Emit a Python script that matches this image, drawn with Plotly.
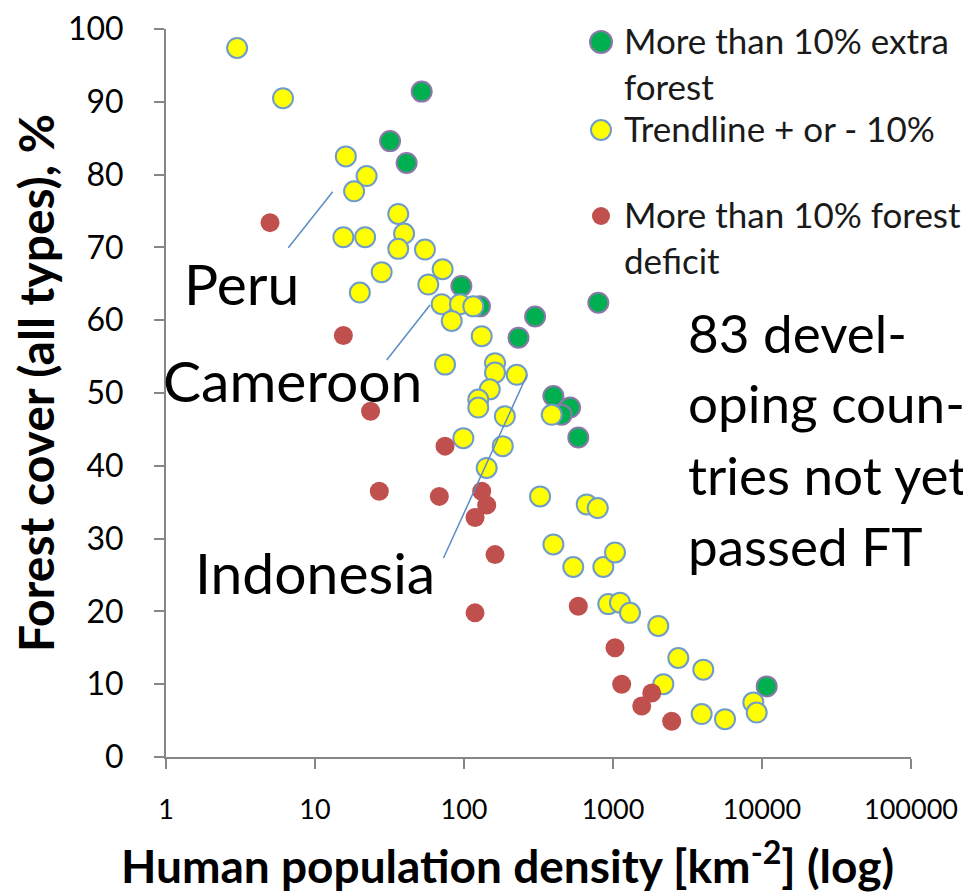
import plotly.graph_objects as go

# ---- data ----
green_x = [52, 31.9, 41.2, 96, 128, 300, 232, 797, 398, 515, 452, 585, 10750]
green_y = [91.4, 84.6, 81.6, 64.7, 61.9, 60.5, 57.6, 62.4, 49.6, 48.0, 47.0, 43.9, 9.7]

yellow_x = [3.0, 6.1, 16.1, 22.2, 18.3, 36.2, 15.5, 21.7, 39.6, 36.2, 54.7, 28.0, 71.9, 57.6,
            20.0, 70.8, 94, 115.5, 82.7, 131.5, 74.6, 161.5, 161.5, 226, 149, 124.7, 124.7,
            188, 99, 182, 142, 388, 324, 666, 790, 398, 541, 861, 1031, 930, 1114, 1300,
            2014, 2743, 4036, 2177, 3936, 5646, 8747, 9212]
yellow_y = [97.4, 90.5, 82.5, 79.8, 77.7, 74.6, 71.4, 71.4, 71.9, 69.8, 69.7, 66.6, 67.0, 64.9,
            63.8, 62.2, 62.2, 61.9, 59.9, 57.8, 53.9, 54.1, 52.8, 52.5, 50.5, 49.1, 48.0,
            46.8, 43.8, 42.7, 39.7, 47.0, 35.8, 34.7, 34.2, 29.2, 26.1, 26.1, 28.1, 21.0, 21.2, 19.8,
            18.0, 13.6, 12.0, 10.0, 5.9, 5.2, 7.5, 6.1]

red_x = [4.99, 15.5, 23.6, 74.6, 27.0, 68.3, 131.5, 142, 118.6, 161.5, 118.6, 585, 1031,
         1143, 1820, 1559, 2477]
red_y = [73.4, 57.9, 47.5, 42.7, 36.5, 35.8, 36.5, 34.6, 32.9, 27.8, 19.8, 20.7, 15.0,
         10.0, 8.8, 7.0, 4.9]

x_tickvals = [1, 10, 100, 1000, 10000, 100000]
x_ticktext = ["1", "10", "100", "1000", "10000", "100000"]
y_tickvals = [0, 10, 20, 30, 40, 50, 60, 70, 80, 90, 100]

legend_labels = [["More than 10% extra", "forest"], ["Trendline + or - 10%"],
                 ["More than 10% forest", "deficit"]]
country_labels = ["Peru", "Cameroon", "Indonesia"]
note_lines = ["83 devel-", "oping coun-", "tries not yet", "passed FT"]

# ---- styles ----
GREEN = "#00B050"
GREEN_LINE = "#8A78A8"
YELLOW = "#FFFF00"
YELLOW_LINE = "#6F9CC8"
RED = "#C0504D"
AXIS = "#868686"
FONT = "Lato"

fig = go.Figure()
fig.add_trace(go.Scatter(x=green_x, y=green_y, mode="markers", showlegend=False,
                         marker=dict(size=20, color=GREEN, line=dict(color=GREEN_LINE, width=2))))
fig.add_trace(go.Scatter(x=yellow_x, y=yellow_y, mode="markers", showlegend=False,
                         marker=dict(size=20, color=YELLOW, line=dict(color=YELLOW_LINE, width=2))))
fig.add_trace(go.Scatter(x=red_x, y=red_y, mode="markers", showlegend=False,
                         marker=dict(size=19, color=RED, line=dict(width=0))))

# page offset (body margin) compensation
OFF = 8
W, H = 971, 894
# desired plot area in page pixels
PL, PR, PT, PB = 166, 911, 29, 757
L, T = PL - OFF, PT - OFF
R = W + OFF - PR
B = H + OFF - PB
PW, PH = PR - PL, PB - PT


def px(xp):
    return (xp - PL) / PW


def py(yp):
    return (PB - yp) / PH


shapes = []
annotations = []

# legend swatches and texts
leg_rows = [42, 130, 216]
leg_styles = [(GREEN, GREEN_LINE, 11, 2), (YELLOW, YELLOW_LINE, 10, 2), (RED, RED, 9, 0)]
for row, (fc, lc, r, lw), lines in zip(leg_rows, leg_styles, legend_labels):
    shapes.append(dict(type="circle", xref="paper", yref="paper", xsizemode="pixel",
                       ysizemode="pixel", xanchor=px(601), yanchor=py(row),
                       x0=-r, x1=r, y0=-r, y1=r, fillcolor=fc,
                       line=dict(color=lc, width=lw)))
    for i, t in enumerate(lines):
        annotations.append(dict(text=t, xref="paper", yref="paper", x=px(622),
                                y=py(row - 2 + 46 * i),
                                xanchor="left", yanchor="middle", showarrow=False,
                                font=dict(family=FONT, size=35, color="#1a1a1a")))

# leader lines
for (x0, y0, x1, y1) in [(332.7, 191.7, 288.3, 247.7), (430, 305, 386.7, 360),
                         (527, 375, 443.5, 558)]:
    shapes.append(dict(type="line", xref="paper", yref="paper", x0=px(x0), y0=py(y0),
                       x1=px(x1), y1=py(y1), line=dict(color="#5B8CC6", width=1.5)))

for t, (cx, cy) in zip(country_labels, [(241, 283), (292, 380), (315, 572)]):
    annotations.append(dict(text=t, xref="paper", yref="paper", x=px(cx), y=py(cy),
                            xanchor="center", yanchor="middle", showarrow=False,
                            font=dict(family=FONT, size=57, color="black")))

for t, cy in zip(note_lines, [333, 403, 474, 546]):
    annotations.append(dict(text=t, xref="paper", yref="paper", x=px(686), y=py(cy),
                            xanchor="left", yanchor="middle", showarrow=False,
                            font=dict(family=FONT, size=53, color="black")))

# axis titles
annotations.append(dict(text="<b>Human population density [km<sup>-2</sup>] (log)</b>",
                        xref="paper", yref="paper", x=px(507), y=py(862),
                        xanchor="center", yanchor="middle", showarrow=False,
                        font=dict(family=FONT, size=46, color="black")))
annotations.append(dict(text="<b>Forest cover (all types), %</b>", textangle=-90,
                        xref="paper", yref="paper", x=px(35), y=py(383),
                        xanchor="center", yanchor="middle", showarrow=False,
                        font=dict(family=FONT, size=48, color="black")))

fig.update_layout(
    width=W, height=H, margin=dict(l=L, r=R, t=T, b=B, autoexpand=False),
    paper_bgcolor="white", plot_bgcolor="white",
    shapes=shapes, annotations=annotations, showlegend=False,
    font=dict(family=FONT, color="black"),
)
fig.update_xaxes(type="log", range=[0, 5], tickvals=x_tickvals, ticktext=x_ticktext,
                 automargin=False,
                 showgrid=False, zeroline=False, showline=True, linecolor=AXIS, linewidth=2,
                 ticks="outside", ticklen=10, tickwidth=2, tickcolor=AXIS,
                 tickfont=dict(family=FONT, size=27, color="black"), ticklabelstandoff=18)
fig.update_yaxes(range=[0, 100], tickvals=y_tickvals, showgrid=False, zeroline=False,
                 automargin=False,
                 showline=True, linecolor=AXIS, linewidth=2, ticks="outside", ticklen=10,
                 tickwidth=2, tickcolor=AXIS,
                 tickfont=dict(family=FONT, size=32, color="black"), ticklabelstandoff=24)

fig.write_html("out.html")
